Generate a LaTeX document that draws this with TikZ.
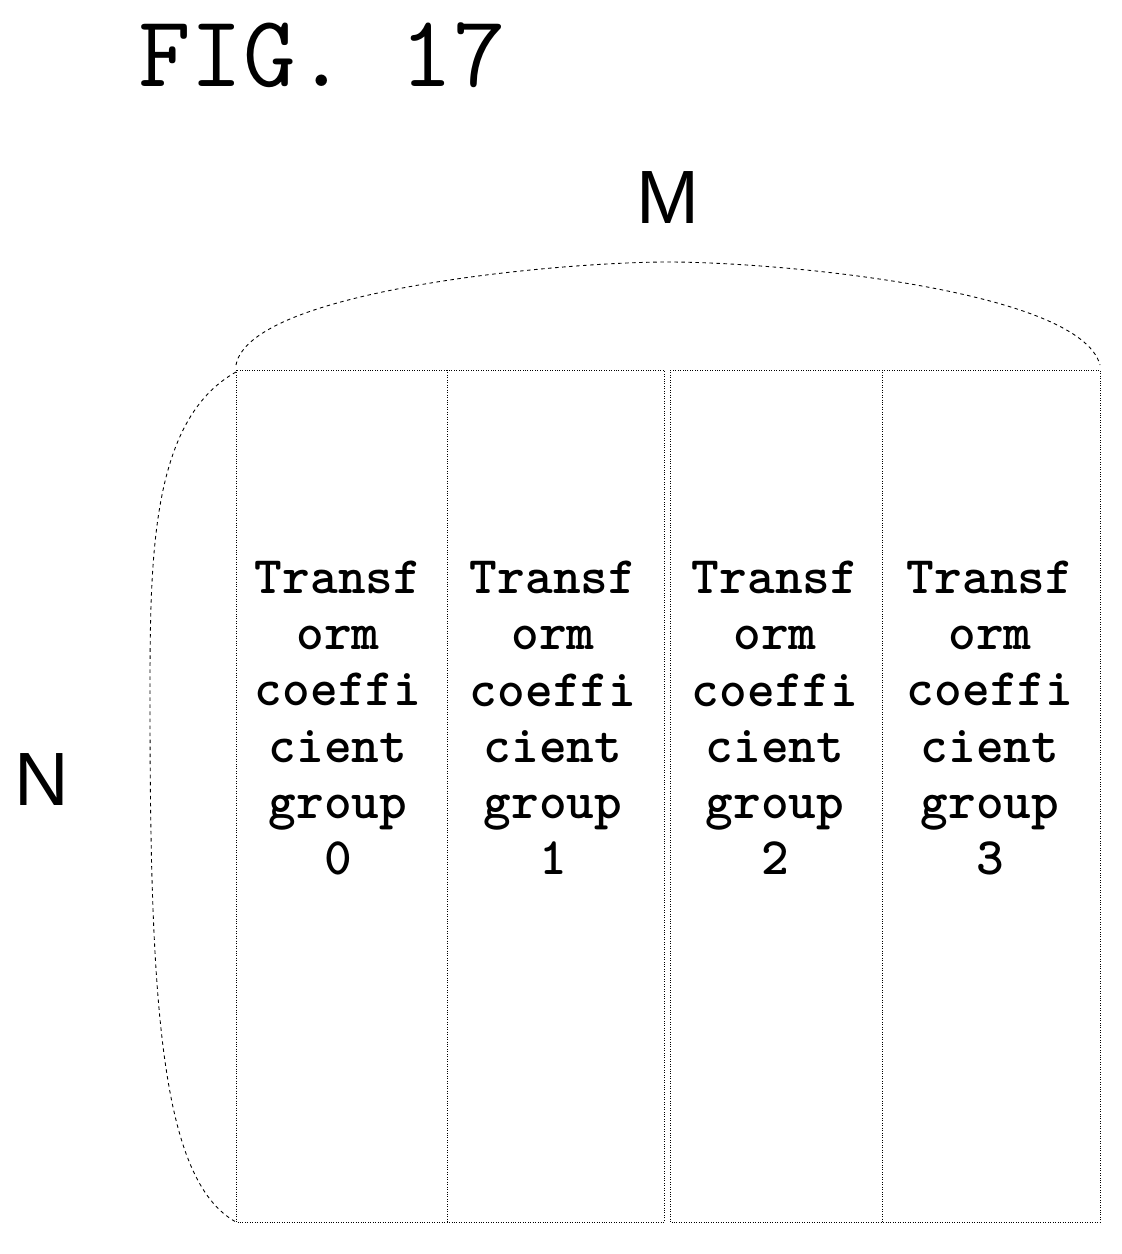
\documentclass[tikz,border=0pt]{standalone}
\usepackage{fontspec}
\setmainfont{Liberation Sans}
\begin{document}
\begin{tikzpicture}[x=0.02cm,y=-0.02cm,
  grouptext/.style={font=\ttfamily\bfseries\fontsize{30}{32}\selectfont, align=center, text width=160},
  brace/.style={densely dashed, dash pattern=on 2pt off 2pt, line width=0.5pt}]
\useasboundingbox (0,0) rectangle (1122,1254);
% title and sizes
\node[font=\ttfamily\fontsize{58}{58}\selectfont] (title) at (322,55) {FIG. 17};
\node[font=\fontsize{43}{43}\selectfont] (m) at (668,198) {M};
\node[font=\fontsize{43}{43}\selectfont] (n) at (42,780) {N};
% block outlines
\draw[densely dotted] (236,370) rectangle (664,1222);
\draw[densely dotted] (670,370) rectangle (1100,1222);
\draw[densely dotted] (447,370) -- (447,1222);
\draw[densely dotted] (882,370) -- (882,1222);
% groups
\foreach \i/\x in {0/338, 1/553, 2/775, 3/990}
  \node[grouptext] (g\i) at (\x,718) {Transf\\orm\\coeffi\\cient\\group\\\i};
% braces
\draw[brace] (236,365) .. controls (250,290) and (560,262) .. (668,262)
  .. controls (780,262) and (1080,290) .. (1100,365);
\draw[brace] (236,372) .. controls (150,420) and (150,560) .. (150,700)
  .. controls (150,1000) and (160,1180) .. (236,1222);
\end{tikzpicture}
\end{document}
